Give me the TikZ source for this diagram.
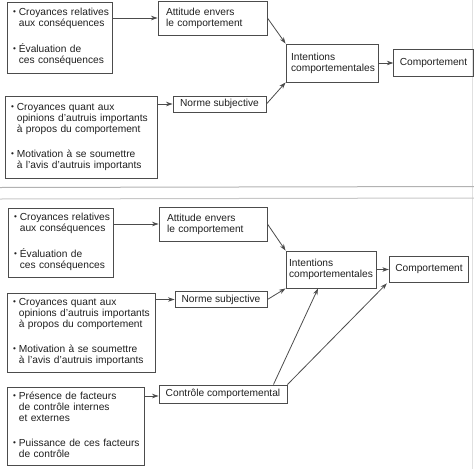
\documentclass[tikz,border=0pt]{standalone}
\usepackage{fontspec}
\setmainfont{Liberation Sans}
\usetikzlibrary{arrows.meta,calc}
\definecolor{ink}{gray}{0.12}
\definecolor{lc}{gray}{0.30}
\newcommand{\blt}{\raisebox{0.15ex}{\scalebox{0.8}{\textbullet}}}
\newcommand{\bitems}[1]{\renewcommand{\arraystretch}{1}\begin{tabular}{@{}l@{\hspace{3pt}}l@{}}#1\end{tabular}}
\begin{document}
\begin{tikzpicture}[x=1pt,y=-1pt,
  box/.style={draw=lc, line width=0.9pt, inner xsep=6pt, inner ysep=0pt,
    align=left, text=ink, font=\fontsize{10.2}{11}\selectfont},
  cbox/.style={box, align=center},
  arr/.style={draw=lc, line width=0.8pt, -{Stealth[length=6.5pt,width=4.5pt]}},
  sep/.style={draw=black!30, line width=1pt}]
\useasboundingbox (0,0) rectangle (474,469);
\draw[draw=black!12, line width=0.8pt] (472,0) -- (472,469);
\draw[sep] (0,187.5) -- (474,186.5);
\draw[sep, draw=black!22] (0,199) -- (474,198);

% ---------- top panel ----------
\node[box, text width=93pt, minimum height=71pt] (a1) at (59.5,37.5)
  {\bitems{\blt & Croyances relatives\\ & aux conséquences\\[14pt]
   \blt & Évaluation de\\ & ces conséquences}};
\node[box, minimum height=34pt, inner xsep=8pt, text width=93pt] (att1) at (212.5,18)
  {Attitude envers\\le comportement};
\node[box, text width=140pt, minimum height=82pt] (b1) at (81,137)
  {\bitems{\blt & Croyances quant aux\\ & opinions d'autruis importants\\ & à propos du comportement\\[14pt]
   \blt & Motivation à se soumettre\\ & à l'avis d'autruis importants}};
\node[cbox, minimum width=93pt, minimum height=16pt] (nor1) at (219.5,104) {Norme subjective};
\node[box, inner xsep=5pt, text width=82pt, minimum height=38pt] (int1) at (332,63)
  {Intentions\\comportementales};
\node[cbox, minimum width=75pt, minimum height=27pt] (comp1) at (433.5,62.5) {Comportement};

\draw[arr] (a1.east |- att1.west) -- (att1.west);
\draw[arr] (b1.east |- nor1.west) -- (nor1.west);
\draw[arr] (att1.east) -- (int1.north west);
\draw[arr] (nor1.east) -- (int1.south west);
\draw[arr] (int1.east) -- (int1.east -| comp1.west);

% ---------- bottom panel ----------
\node[box, text width=93pt, minimum height=69pt] (a2) at (60.5,242.5)
  {\bitems{\blt & Croyances relatives\\ & aux conséquences\\[14pt]
   \blt & Évaluation de\\ & ces conséquences}};
\node[box, inner xsep=8pt, text width=92pt, minimum height=34pt] (att2) at (213,224)
  {Attitude envers\\le comportement};
\node[box, text width=136pt, minimum height=79pt] (b2) at (81,332.5)
  {\bitems{\blt & Croyances quant aux\\ & opinions d'autruis importants\\ & à propos du comportement\\[14pt]
   \blt & Motivation à se soumettre\\ & à l'avis d'autruis importants}};
\node[cbox, minimum width=92pt, minimum height=16pt] (nor2) at (221,299.5) {Norme subjective};
\node[box, inner xsep=3pt, text width=84pt, minimum height=37pt] (int2) at (331,269.5)
  {Intentions\\comportementales};
\node[cbox, minimum width=74pt, minimum height=26pt] (comp2) at (429,269) {Comportement};
\node[box, text width=125pt, minimum height=78pt] (c2) at (75.5,426)
  {\bitems{\blt & Présence de facteurs\\ & de contrôle internes\\ & et externes\\[14pt]
   \blt & Puissance de ces facteurs\\ & de contrôle}};
\node[cbox, minimum width=128pt, minimum height=18pt] (ctl2) at (223,394) {Contrôle comportemental};

\draw[arr] (a2.east |- att2.west) -- (att2.west);
\draw[arr] (b2.east |- nor2.west) -- (nor2.west);
\draw[arr] (att2.east) -- (int2.north west);
\draw[arr] (nor2.east) -- (int2.south west);
\draw[arr] (int2.east) -- (int2.east -| comp2.west);
\draw[arr] ($(c2.east)+(0,-30)$) -- ($(ctl2.west)+(0,2)$);
\draw[arr] ($(ctl2.north east)+(-14,0)$) -- ($(int2.south)+(-13,0)$);
\draw[arr] (ctl2.north east) -- ($(comp2.south west)+(-2,1)$);
\end{tikzpicture}
\end{document}
